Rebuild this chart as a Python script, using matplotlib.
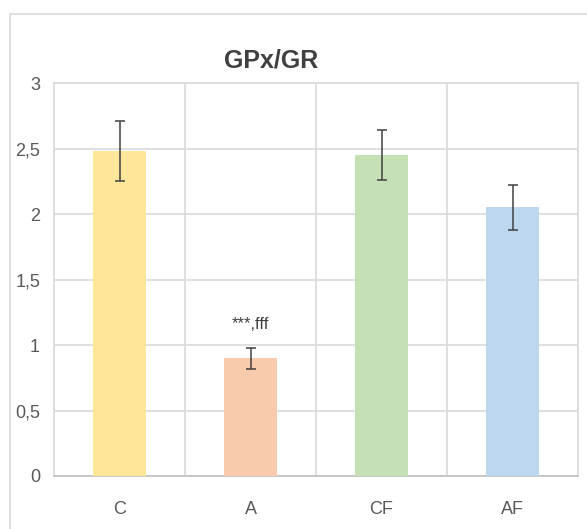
import matplotlib
matplotlib.use('Agg')
from matplotlib import pyplot as plt
from matplotlib import font_manager
from matplotlib.patches import Rectangle

# data
groups = ['C', 'A', 'CF', 'AF']
means = [2.48, 0.90, 2.45, 2.05]
errors = [0.23, 0.08, 0.19, 0.17]
colors = ['#FFE699', '#F8CBAD', '#C5E0B4', '#BDD7EE']
yticks = [0, 0.5, 1, 1.5, 2, 2.5, 3]
ytick_labels = ['0', '0,5', '1', '1,5', '2', '2,5', '3']
annotation = '***,fff'

names = {f.name for f in font_manager.fontManager.ttflist}
font = 'Liberation Sans Narrow' if 'Liberation Sans Narrow' in names else 'Liberation Sans'
plt.rcParams['font.family'] = [font, 'DejaVu Sans']

fig = plt.figure(figsize=(5.87, 5.29), dpi=100)
# chart area border, like the Excel frame
fig.patches.append(Rectangle((10 / 587, -0.05), 1.2, (529 - 14) / 529 + 0.05,
                             transform=fig.transFigure, fill=False,
                             edgecolor='#d9d9d9', linewidth=1.2))

ax = fig.add_axes([54 / 587, 53 / 529, 524 / 587, 393 / 529])
x = range(len(groups))
ax.bar(x, means, width=0.41, color=colors, zorder=3)
ax.errorbar(x, means, yerr=errors, fmt='none', ecolor='#404040',
            elinewidth=1.1, capsize=3.5, capthick=1.1, zorder=4)
ax.text(1, means[1] + errors[1] + 0.12, annotation, ha='center', va='bottom',
        fontsize=12, color='#404040')

ax.set_xlim(-0.5, 3.5)
ax.set_ylim(0, 3)
ax.set_yticks(yticks)
ax.set_yticklabels(ytick_labels)
ax.set_xticks(list(x))
ax.set_xticklabels(groups)
ax.set_xticks([0.5, 1.5, 2.5], minor=True)
ax.grid(axis='y', color='#d9d9d9', linewidth=1.2, zorder=0)
ax.grid(axis='x', which='minor', color='#d9d9d9', linewidth=1.2, zorder=0)
ax.tick_params(axis='both', which='both', length=0, labelsize=13, colors='#595959')
ax.tick_params(axis='y', pad=10)
ax.tick_params(axis='x', pad=18)
for side in ['top', 'right', 'left']:
    ax.spines[side].set_color('#d9d9d9')
    ax.spines[side].set_linewidth(1.2)
ax.spines['bottom'].set_color('#bfbfbf')
ax.spines['bottom'].set_linewidth(1.2)

fig.text(271 / 587, (529 - 60) / 529, 'GPx/GR', ha='center', va='center',
         fontsize=18, fontweight='bold', color='#404040')

plt.savefig('out.png', dpi=100)
